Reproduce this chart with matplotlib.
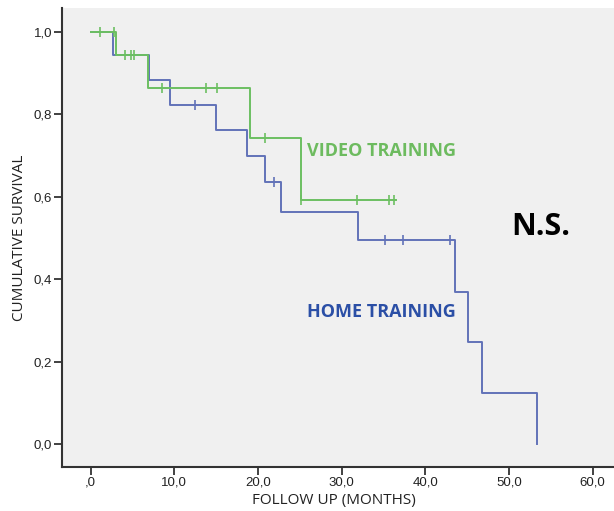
import numpy as np
import matplotlib.pyplot as plt

# Kaplan-Meier steps (months, survival)
home_t = [0.0, 2.7, 7.0, 9.5, 15.0, 18.7, 20.8, 22.8, 32.0, 43.5, 45.1, 46.8, 53.4]
home_s = [1.0, 0.944, 0.883, 0.824, 0.762, 0.700, 0.635, 0.564, 0.495, 0.370, 0.247, 0.123, 0.0]
home_cens_t = [12.5, 21.9, 35.2, 37.3, 42.9]
home_cens_s = [0.824, 0.635, 0.495, 0.495, 0.495]

video_t = [0.0, 3.0, 6.9, 19.1, 25.1, 36.5]
video_s = [1.0, 0.944, 0.865, 0.742, 0.592, 0.592]
video_cens_t = [1.1, 2.8, 4.1, 4.8, 5.2, 8.5, 13.8, 15.1, 20.9, 25.1, 31.8, 35.7, 36.3]
video_cens_s = [1.0, 1.0, 0.944, 0.944, 0.944, 0.865, 0.865, 0.865, 0.742, 0.592, 0.592, 0.592, 0.592]

xticks = [0, 10, 20, 30, 40, 50, 60]
xlabels = [',0', '10,0', '20,0', '30,0', '40,0', '50,0', '60,0']
yticks = [0, 0.2, 0.4, 0.6, 0.8, 1.0]
ylabels = ['0,0', '0,2', '0,4', '0,6', '0,8', '1,0']

green = '#6cbf62'
blue = '#6272b8'

fig = plt.figure(figsize=(6.14, 5.11), dpi=100)
ax = fig.add_axes([62 / 614, 1 - 467 / 511, 1 - 62 / 614, (467 - 8) / 511])
ax.set_facecolor('#f0f0f0')

ax.step(home_t + [home_t[-1]], home_s + [0.0], where='post', color=blue, lw=1.4)
ax.step(video_t, video_s, where='post', color=green, lw=1.4)
ax.plot(home_cens_t, home_cens_s, ls='none', marker='|', ms=7, mew=1.2, color=blue)
ax.plot(video_cens_t, video_cens_s, ls='none', marker='|', ms=7, mew=1.2, color=green)

# x: tick 0 at px 90.5, 8.37 px/month
ax.set_xlim((62 - 90.5) / 8.37, (614 - 90.5) / 8.37)
ax.set_ylim((444 - 467) / 412, (444 - 8) / 412)

ax.set_xticks(xticks)
ax.set_xticklabels(xlabels, family='Liberation Sans', fontsize=9.5, color='#222222')
ax.set_yticks(yticks)
ax.set_yticklabels(ylabels, family='Liberation Sans', fontsize=9.5, color='#222222')
ax.tick_params(length=6, width=1.3, color='#333333', pad=1)

for side in ['top', 'right']:
    ax.spines[side].set_visible(False)
ax.spines['left'].set_color('#333333')
ax.spines['bottom'].set_color('#333333')
ax.spines['left'].set_linewidth(1.5)
ax.spines['bottom'].set_linewidth(1.5)

ax.set_xlabel('FOLLOW UP (MONTHS)', family='Open Sans', fontsize=11, color='#222222')
ax.xaxis.set_label_coords(0.493, -0.056)
ax.set_ylabel('CUMULATIVE SURVIVAL', family='Open Sans', fontsize=11, color='#222222', labelpad=5)

ax.text(25.9, 0.699, 'VIDEO TRAINING', family='Open Sans', weight='bold', fontsize=13,
        color='#6dbb5f', va='baseline')
ax.text(25.9, 0.309, 'HOME TRAINING', family='Open Sans', weight='bold', fontsize=13,
        color='#2b4fa6', va='baseline')
ax.text(50.3, 0.507, 'N.S.', family='Open Sans', weight='bold', fontsize=22,
        color='black', va='baseline')

fig.savefig('out.png', dpi=100)
